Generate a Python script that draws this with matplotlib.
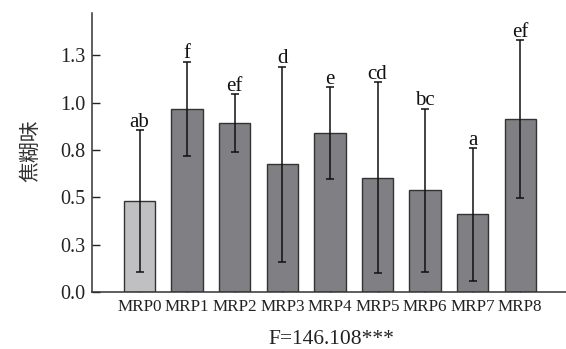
import numpy as np
import matplotlib
matplotlib.use("Agg")
import matplotlib.pyplot as plt

plt.rcParams['font.family'] = ['Liberation Serif', 'DejaVu Serif']

groups = ["MRP0", "MRP1", "MRP2", "MRP3", "MRP4", "MRP5", "MRP6", "MRP7", "MRP8"]
means = [0.479, 0.968, 0.893, 0.675, 0.840, 0.604, 0.537, 0.410, 0.914]
errs = [0.375, 0.248, 0.152, 0.515, 0.243, 0.505, 0.432, 0.350, 0.415]
letters = ["ab", "f", "ef", "d", "e", "cd", "bc", "a", "ef"]
ytick_vals = [0.0, 0.25, 0.5, 0.75, 1.0, 1.25]
ytick_labels = ["0.0", "0.3", "0.5", "0.8", "1.0", "1.3"]

fig = plt.figure(figsize=(5.66, 3.49), dpi=100)
ax = fig.add_axes([0.1625, 0.1633, 0.8375, 0.800])

x = np.arange(len(groups))
colors = ["#c0c0c2"] + ["#808084"] * (len(groups) - 1)
ax.bar(x, means, width=0.66, color=colors, edgecolor="#333333", linewidth=1.0, zorder=2)
ax.errorbar(x, means, yerr=errs, fmt="none", ecolor="#111111",
            elinewidth=1.1, capsize=3, capthick=1.1, zorder=3)

# significance letters sit just above the cap
for xi, m, e, lab in zip(x, means, errs, letters):
    ax.annotate(lab, (xi, m + e), xytext=(0, 2.5), textcoords="offset points",
                ha="center", va="baseline", fontsize=15, color="#111111")

ax.set_xlim(-1, 8.96)
ax.set_ylim(0, 1.475)
ax.set_xticks(x)
ax.set_xticklabels(groups, fontsize=12.3)
ax.set_yticks(ytick_vals)
ax.set_yticklabels(ytick_labels, fontsize=14.5)
ax.tick_params(axis="x", direction="in", length=6, width=1.0, pad=5, colors="#222222")
ax.tick_params(axis="y", direction="in", length=6, width=1.0, pad=5, colors="#222222")

for s in ["top", "right"]:
    ax.spines[s].set_visible(False)
for s in ["left", "bottom"]:
    ax.spines[s].set_linewidth(1.1)
    ax.spines[s].set_color("#333333")

fig.text(30 / 566, 1 - 151 / 349, "焦糊味", rotation=90, ha="center", va="center",
         fontsize=15, family=["Noto Sans CJK SC", "DejaVu Sans"], color="#333333")
fig.text(331 / 566, 1 - 339 / 349, "F=146.108***", ha="center", va="center",
         fontsize=15.5, color="#222222")

fig.savefig("out.png", dpi=100)
